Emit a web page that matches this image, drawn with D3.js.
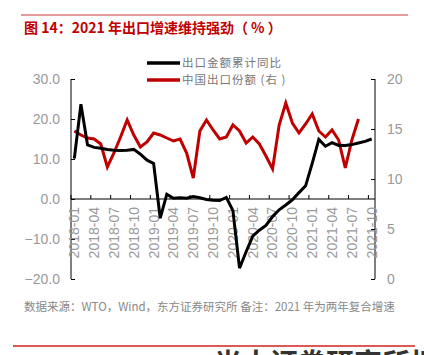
<!DOCTYPE html>
<html><head><meta charset="utf-8">
<script src="https://cdn.jsdelivr.net/npm/d3@7"></script>
<style>
html,body{margin:0;padding:0;background:#fff;}
svg{display:block;font-family:"Liberation Sans","Noto Sans CJK SC",sans-serif;}
</style></head>
<body>
<svg id="c" width="424" height="355"></svg>
<script>
const months = ["2018-01","2018-02","2018-03","2018-04","2018-05","2018-06","2018-07","2018-08","2018-09","2018-10","2018-11","2018-12",
"2019-01","2019-02","2019-03","2019-04","2019-05","2019-06","2019-07","2019-08","2019-09","2019-10","2019-11","2019-12",
"2020-01","2020-02","2020-03","2020-04","2020-05","2020-06","2020-07","2020-08","2020-09","2020-10","2020-11","2020-12",
"2021-01","2021-02","2021-03","2021-04","2021-05","2021-06","2021-07","2021-08","2021-09","2021-10"];
const exportYoY = [10.1,23.7,13.5,12.9,12.7,12.4,12.2,12.1,12.2,12.4,11.2,9.7,
8.9,-4.8,1.2,0.2,0.3,0.2,0.6,0.3,-0.1,-0.3,-0.4,0.4,
-2.9,-17.3,-13.2,-9.3,-7.8,-6.6,-4.4,-2.7,-1.5,-0.2,1.6,3.3,
8.9,14.9,13.2,14.1,13.4,13.4,13.6,14.0,14.4,15.0];
const chinaShare = [14.8,14.4,14.1,14.0,13.5,11.2,12.6,14.2,15.9,14.4,13.2,13.7,
14.6,14.4,14.1,13.8,14.0,12.6,10.1,14.8,15.9,14.9,14.0,14.2,
15.4,14.8,13.6,14.2,13.5,12.3,11.0,15.4,17.6,15.6,14.6,15.5,
16.5,14.8,14.2,14.9,13.9,11.1,13.9,16.0];
const leftTicks = [-20,-10,0,10,20,30];
const rightTicks = [0,5,10,15,20];
const seriesNames = ["出口金额累计同比","中国出口份额 (右 )"];
const titleText = "图 14：2021 年出口增速维持强劲（ % ）";
const sourceText = "数据来源：WTO，Wind，东方证券研究所  备注：2021 年为两年复合增速";

const svg = d3.select("#c");
const L = 71, R = 375, T = 79, B = 279;
const x = d3.scaleBand().domain(months).range([L, R]).padding(0);
const yL = d3.scaleLinear().domain([-20, 30]).range([B, T]);
const yR = d3.scaleLinear().domain([0, 20]).range([B, T]);
const bw = x.bandwidth();
const grey = "#999";

// top rule and title
svg.append("line").attr("x1",21).attr("x2",408).attr("y1",15).attr("y2",15)
  .attr("stroke","#e79a9a").attr("stroke-width",2);
svg.append("text").attr("x",24).attr("y",33).attr("fill","#c00000")
  .attr("font-size",14).attr("font-weight","bold")
  .attr("font-family","'Noto Sans CJK SC','Liberation Sans',sans-serif").text(titleText);

// left axis
const gl = svg.append("g").attr("transform",`translate(${L},0)`)
  .call(d3.axisRight(yL).tickValues(leftTicks).tickSize(4).tickFormat(d3.format(".1f")));
gl.selectAll("text").attr("x",-11).attr("text-anchor","end").attr("fill",grey).attr("font-size",14);
// right axis
const gr = svg.append("g").attr("transform",`translate(${R},0)`)
  .call(d3.axisLeft(yR).tickValues(rightTicks).tickSize(4));
gr.selectAll("text").attr("x",12).attr("text-anchor","start").attr("fill",grey).attr("font-size",14);
[gl,gr].forEach(g=>{g.selectAll("path,line").attr("stroke","#000");g.select(".domain").attr("d",null);});
svg.append("line").attr("x1",L).attr("x2",L).attr("y1",T).attr("y2",B).attr("stroke","#000");
svg.append("line").attr("x1",R).attr("x2",R).attr("y1",T).attr("y2",B).attr("stroke","#000");

// x axis at zero
const y0 = yL(0);
svg.append("line").attr("x1",L).attr("x2",R).attr("y1",y0).attr("y2",y0).attr("stroke","#000");
const tickMonths = months.filter((d,i)=>i%3===0);
svg.append("g").selectAll("line").data(tickMonths).join("line")
  .attr("x1",d=>x(d)).attr("x2",d=>x(d)).attr("y1",y0).attr("y2",y0-4).attr("stroke","#000");
svg.append("g").selectAll("text").data(tickMonths).join("text")
  .attr("transform",d=>`translate(${x(d)+bw/2},${y0+8}) rotate(-90)`)
  .attr("text-anchor","end").attr("dy","0.35em").attr("fill",grey).attr("font-size",14)
  .text(d=>d);

// lines
const lineL = d3.line().x((d,i)=>x(months[i])+bw/2).y(d=>yL(d));
const lineR = d3.line().x((d,i)=>x(months[i])+bw/2).y(d=>yR(d));
svg.append("path").datum(chinaShare).attr("d",lineR).attr("fill","none")
  .attr("stroke","#c00000").attr("stroke-width",3).attr("stroke-linejoin","miter");
svg.append("path").datum(exportYoY).attr("d",lineL).attr("fill","none")
  .attr("stroke","#000").attr("stroke-width",3).attr("stroke-linejoin","miter");

// legend
const leg = [{c:"#000",y:63},{c:"#c00000",y:80}];
leg.forEach((l,i)=>{
  svg.append("line").attr("x1",147).attr("x2",180).attr("y1",l.y).attr("y2",l.y)
    .attr("stroke",l.c).attr("stroke-width",3.5);
  svg.append("text").attr("x",182).attr("y",l.y).attr("dy","0.36em").attr("fill","#777")
    .attr("font-size",11.5).attr("letter-spacing",1).attr("font-family","'Noto Sans CJK SC',sans-serif").text(seriesNames[i]);
});

// source
svg.append("text").attr("x",24).attr("y",311).attr("fill","#888").attr("font-size",11.5)
  .attr("font-family","'Noto Sans CJK SC',sans-serif").text(sourceText);
// bottom rule
svg.append("line").attr("x1",13).attr("x2",415).attr("y1",346).attr("y2",346)
  .attr("stroke","#d42020").attr("stroke-width",1.5);
svg.append("text").attr("x",214).attr("y",374).attr("fill","#333").attr("font-size",28)
  .attr("font-weight","bold").attr("font-family","'Noto Sans CJK SC',sans-serif").text("光大证券研究所报告");
</script>
</body></html>
